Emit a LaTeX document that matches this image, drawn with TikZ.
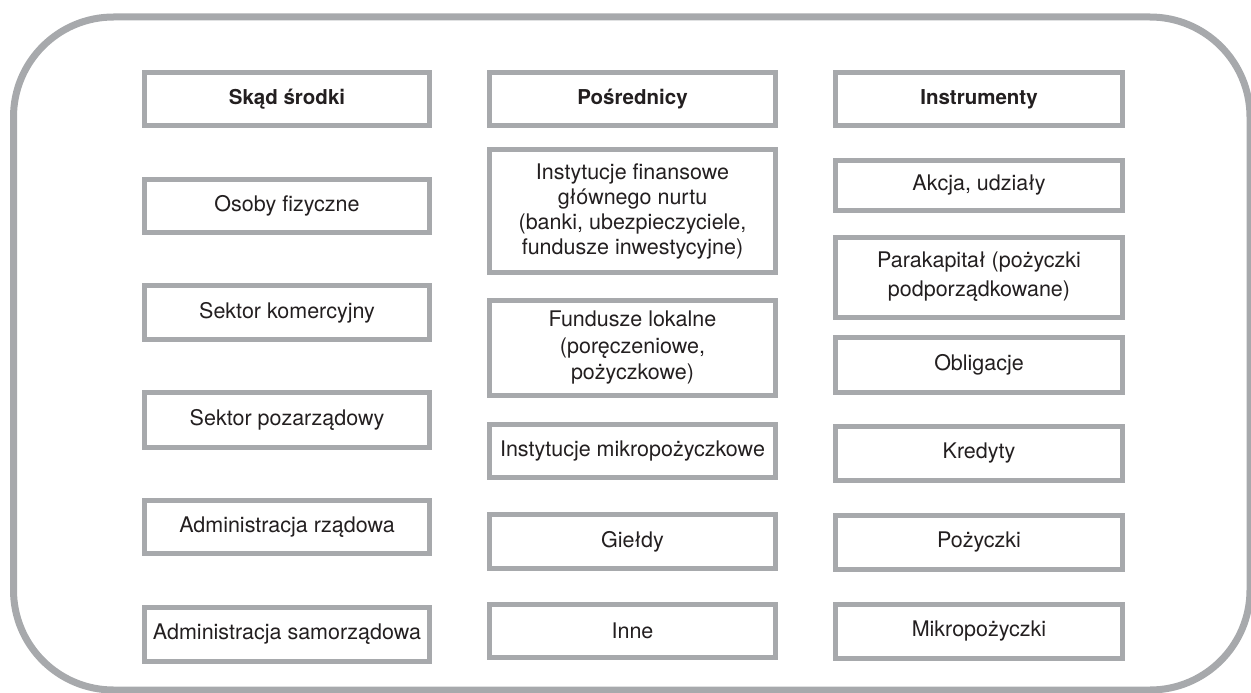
\documentclass[tikz,border=0pt]{standalone}
\usepackage{fontspec}
\setmainfont{TeX Gyre Heros}
\definecolor{framegray}{HTML}{A7A9AC}
\definecolor{inkc}{HTML}{231F20}
\begin{document}
\begin{tikzpicture}[x=1pt,y=-1pt,
  box/.style={draw=framegray, line width=5pt, fill=white, inner sep=0pt, outer sep=0pt,
    align=center, text=inkc, font=\fontsize{21.5}{25}\selectfont},
  head/.style={box, font=\fontsize{20.5}{25}\selectfont\bfseries},
  w1/.style={minimum width=285pt},
  w2/.style={minimum width=286pt},
  w3/.style={minimum width=287pt}]
\useasboundingbox (0,0) rectangle (1251,693);
\draw[framegray, line width=7pt, rounded corners=100pt] (13.5,17) rectangle (1250,690);
% column 1
\node[head,w1,minimum height=53pt] (h1) at (287,99) {Skąd środki};
\node[box,w1,minimum height=53pt] (a1) at (287,206) {Osoby fizyczne};
\node[box,w1,minimum height=54pt] (a2) at (287,312.5) {Sektor komercyjny};
\node[box,w1,minimum height=55pt] (a3) at (287,420) {Sektor pozarządowy};
\node[box,w1,minimum height=53pt] (a4) at (287,527) {Administracja rządowa};
\node[box,w1,minimum height=54pt] (a5) at (287,634.5) {Administracja samorządowa};
% column 2
\node[head,w2,minimum height=53pt] (h2) at (632.5,99) {Pośrednicy};
\node[box,w2,minimum height=123pt] (b1) at (632.5,211) {Instytucje finansowe\\głównego nurtu\\(banki, ubezpieczyciele,\\fundusze inwestycyjne)};
\node[box,w2,minimum height=95pt,font=\fontsize{21.5}{26.5}\selectfont] (b2) at (632.5,348) {Fundusze lokalne\\(poręczeniowe,\\pożyczkowe)};
\node[box,w2,minimum height=53pt] (b3) at (632.5,451) {Instytucje mikropożyczkowe};
\node[box,w2,minimum height=54pt] (b4) at (632.5,541.5) {Giełdy};
\node[box,w2,minimum height=53pt] (b5) at (632.5,631) {Inne};
% column 3
\node[head,w3,minimum height=53pt] (h3) at (979,99) {Instrumenty};
\node[box,w3,minimum height=50pt] (c1) at (979,185.5) {Akcja, udziały};
\node[box,w3,minimum height=80pt,font=\fontsize{21.5}{29}\selectfont] (c2) at (979,277) {Parakapitał (pożyczki\\podporządkowane)};
\node[box,w3,minimum height=55pt] (c3) at (979,365) {Obligacje};
\node[box,w3,minimum height=54pt] (c4) at (979,453.5) {Kredyty};
\node[box,w3,minimum height=54pt] (c5) at (979,542.5) {Pożyczki};
\node[box,w3,minimum height=54pt] (c6) at (979,631.5) {Mikropożyczki};
\end{tikzpicture}
\end{document}
